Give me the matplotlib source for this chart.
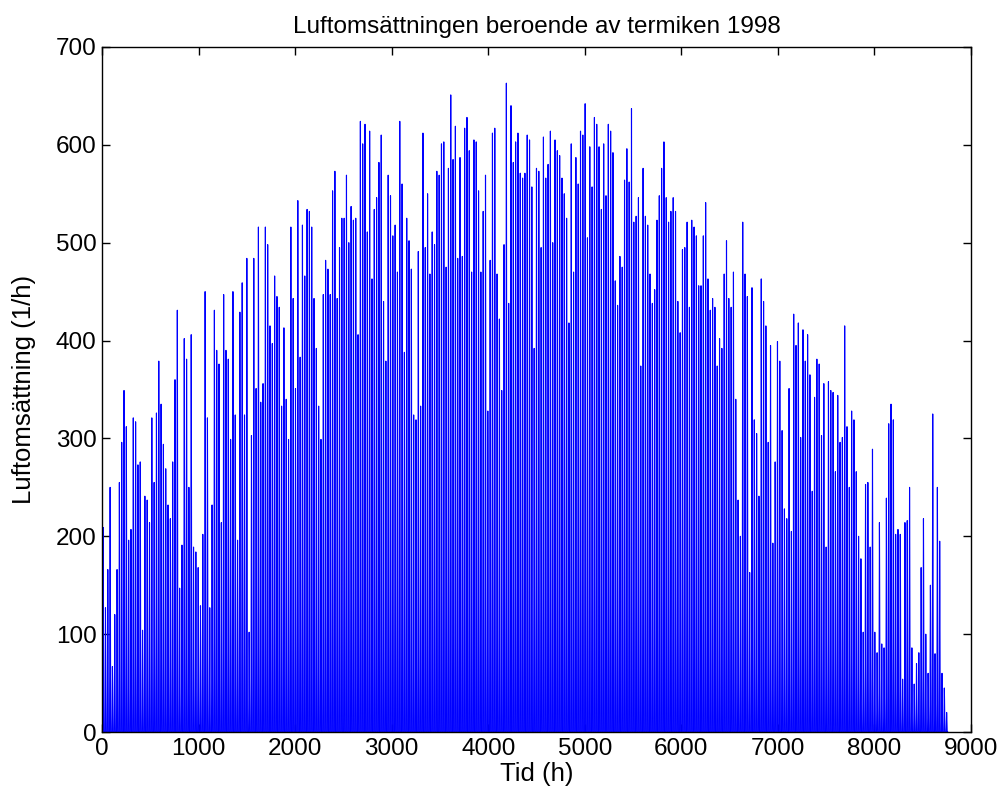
import matplotlib
matplotlib.use('Agg')
import matplotlib.pyplot as plt
import numpy as np

# daily peak values (1/h), one per day of 1998
peaks = [
    209, 127, 166, 250, 67, 120, 166, 255, 296, 349, 312, 196, 207, 321, 317, 273,
    276, 104, 241, 237, 214, 321, 255, 326, 379, 335, 294, 269, 232, 218, 276, 360,
    431, 147, 191, 402, 381, 250, 406, 189, 184, 168, 129, 202, 450, 321, 127, 232,
    431, 390, 376, 214, 447, 390, 381, 299, 450, 324, 196, 429, 459, 324, 484, 102,
    303, 484, 351, 516, 337, 356, 516, 498, 415, 397, 466, 445, 434, 333, 413, 340,
    299, 516, 443, 351, 543, 383, 518, 466, 534, 532, 516, 443, 392, 333, 299, 447,
    482, 473, 447, 553, 573, 443, 495, 525, 525, 569, 500, 537, 523, 525, 406, 624,
    601, 621, 511, 614, 463, 534, 546, 582, 610, 440, 379, 569, 548, 507, 518, 470, 624,
    560, 388, 525, 502, 473, 324, 319, 491, 333, 612, 495, 550, 468, 511, 498, 573,
    569, 601, 603, 475, 576, 651, 585, 619, 484, 587, 486, 617, 628, 594, 470, 605,
    603, 553, 470, 532, 569, 328, 482, 612, 617, 468, 422, 349, 498, 663, 438, 640,
    582, 603, 612, 571, 566, 571, 610, 605, 557, 392, 576, 573, 495, 608, 566, 580, 614,
    500, 605, 594, 589, 566, 550, 525, 418, 601, 470, 587, 560, 614, 610, 642, 505,
    598, 557, 628, 621, 598, 534, 601, 548, 621, 614, 592, 461, 436, 486, 475, 564,
    596, 562, 637, 521, 527, 546, 374, 576, 527, 518, 468, 438, 452, 523, 548, 576,
    603, 546, 521, 532, 546, 532, 440, 408, 493, 495, 521, 434, 523, 516, 507, 456,
    456, 507, 541, 463, 431, 443, 434, 374, 402, 392, 468, 502, 443, 434, 470, 340,
    237, 200, 521, 468, 445, 163, 454, 319, 305, 241, 463, 440, 415, 296, 395, 193, 276,
    399, 379, 308, 228, 218, 351, 205, 427, 395, 418, 301, 411, 379, 406, 365, 246,
    342, 381, 376, 303, 356, 189, 358, 349, 347, 266, 344, 296, 301, 415, 312, 250,
    328, 319, 266, 200, 177, 102, 253, 255, 189, 289, 102, 81, 214, 90, 86, 239,
    315, 335, 319, 202, 207, 202, 54, 214, 216, 250, 86, 49, 70, 81, 168, 218,
    100, 60, 150, 325, 80, 250, 195, 60, 45, 20,
]

# share of the daily peak reached at each hour of the day (estimated)
day_profile = [0, 0, 0, 0, 0, 0, 0, 0.1, 0.25, 0.45, 0.65, 0.85,
               1.0, 0.9, 0.75, 0.55, 0.35, 0.15, 0, 0, 0, 0, 0, 0]

values = np.outer(peaks, day_profile).ravel()
hours = np.arange(len(values))

plt.rcParams['font.family'] = ['Liberation Sans', 'DejaVu Sans']

fig = plt.figure(figsize=(10.01, 8.07), dpi=100)
ax = fig.add_axes([0.1019, 0.0929, 0.8681, 0.8489])
ax.plot(hours, values, color='#0000ff', linewidth=0.8)

ax.set_xlim(0, 9000)
ax.set_ylim(0, 700)
ax.set_xticks(np.arange(0, 9001, 1000))
ax.set_yticks(np.arange(0, 701, 100))
ax.tick_params(direction='in', top=True, right=True, length=6, width=1,
               labelsize=17.5, pad=4)
for s in ax.spines.values():
    s.set_linewidth(1)

ax.set_title('Luftomsättningen beroende av termiken 1998', fontsize=17.5, pad=10)
ax.set_xlabel('Tid (h)', fontsize=18.5, labelpad=2)
ax.set_ylabel('Luftomsättning (1/h)', fontsize=18.5, labelpad=14)

fig.savefig('out.png', dpi=100)
